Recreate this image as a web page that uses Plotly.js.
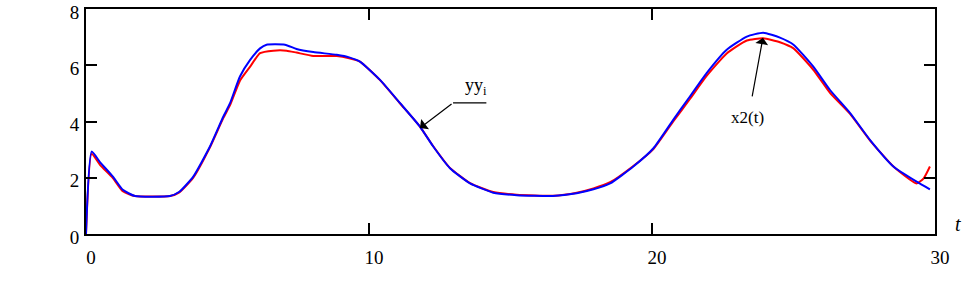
<!DOCTYPE html>
<html>
<head>
<meta charset="utf-8">
<script src="https://cdn.plot.ly/plotly-3.0.1.min.js"></script>
<style>html,body{margin:0;padding:0;background:#fff;}#chart{width:963px;height:286px;}</style>
</head>
<body>
<div id="chart"></div>
<script>
// time samples and values
const tBlue = [0, 0.2, 0.5, 0.95, 1.3, 1.73, 2.97, 3.3, 3.79, 4.38, 4.85, 5.09, 5.44, 5.8, 6.15, 6.38, 7.03, 7.44, 8.03, 8.86, 9.3, 9.68, 10.39, 11.1, 11.8, 12.27, 12.86, 13.57, 14.39, 15.22, 16.5, 17.34, 17.93, 18.52, 19.34, 20.05, 20.75, 21.34, 21.93, 22.64, 23.35, 23.93, 24.52, 25.0, 25.7, 26.29, 27.0, 27.7, 28.53, 29.35, 29.82];
const blueVals = [0, 2.93, 2.55, 2.04, 1.57, 1.35, 1.35, 1.5, 2.04, 3.11, 4.17, 4.65, 5.6, 6.19, 6.6, 6.73, 6.73, 6.58, 6.47, 6.37, 6.28, 6.13, 5.48, 4.65, 3.82, 3.11, 2.34, 1.8, 1.47, 1.38, 1.35, 1.45, 1.59, 1.8, 2.4, 3.05, 4.06, 4.89, 5.72, 6.55, 7.02, 7.16, 6.98, 6.73, 5.95, 5.12, 4.3, 3.35, 2.4, 1.86, 1.59];
const tRed = [0, 0.2, 0.5, 0.95, 1.3, 1.73, 2.97, 3.3, 3.79, 4.38, 4.85, 5.09, 5.44, 5.8, 6.15, 6.62, 7.09, 7.44, 8.03, 8.86, 9.3, 9.68, 10.39, 11.1, 11.8, 12.27, 12.86, 13.57, 14.39, 15.22, 16.5, 17.34, 17.93, 18.52, 19.34, 20.05, 20.75, 21.34, 21.93, 22.64, 23.35, 23.93, 24.52, 25.0, 25.7, 26.29, 27.0, 27.7, 28.53, 29.35, 29.6, 29.82];
const redVals = [0, 2.85, 2.45, 1.99, 1.52, 1.35, 1.35, 1.48, 2.0, 3.08, 4.12, 4.58, 5.45, 5.95, 6.43, 6.52, 6.52, 6.45, 6.33, 6.33, 6.25, 6.13, 5.47, 4.64, 3.82, 3.12, 2.35, 1.81, 1.49, 1.4, 1.36, 1.47, 1.62, 1.84, 2.42, 3.02, 4.0, 4.8, 5.62, 6.42, 6.88, 6.96, 6.82, 6.6, 5.84, 5.02, 4.27, 3.33, 2.4, 1.8, 1.98, 2.4];
const xTicks = [0, 10, 20, 30];
const yTicks = [0, 2, 4, 6, 8];

const serif = '"Liberation Serif", "DejaVu Serif", "Times New Roman", Times, serif';

const traces = [
  {x: tRed, y: redVals, type: 'scatter', mode: 'lines', line: {color: '#ff0000', width: 2, shape: 'spline', smoothing: 0.5}, hoverinfo: 'skip'},
  {x: tBlue, y: blueVals, type: 'scatter', mode: 'lines', line: {color: '#0000ff', width: 2, shape: 'spline', smoothing: 0.5}, hoverinfo: 'skip'}
];

const axisCommon = {
  showline: true, linecolor: '#000', linewidth: 2, mirror: 'ticks',
  ticks: 'inside', ticklen: 11, tickwidth: 2, tickcolor: '#000',
  showgrid: false, zeroline: false, fixedrange: true,
  ticklabeloverflow: 'allow',
  tickfont: {family: serif, size: 19, color: '#000'}
};

const layout = {
  width: 963, height: 286,
  margin: {l: 86, r: 28, t: 9, b: 52},
  paper_bgcolor: '#fff', plot_bgcolor: '#fff',
  showlegend: false,
  font: {family: serif},
  xaxis: Object.assign({}, axisCommon, {range: [0, 30], tickvals: xTicks, ticktext: xTicks.map(String), ticklabelshift: 5, ticklabelstandoff: 5}),
  yaxis: Object.assign({}, axisCommon, {range: [0, 8], tickvals: yTicks, ticktext: yTicks.map(String), ticklabelstandoff: 1, ticklabelshift: 3}),
  annotations: [
    // yy_i label and leader
    {x: 13.78, y: 5.23, xref: 'x', yref: 'y', text: 'yy<sub>i</sub>', showarrow: false,
     font: {family: serif, size: 18, color: '#000'}},
    {x: 12.97, y: 4.66, ax: 14.2, ay: 4.66, xref: 'x', yref: 'y', axref: 'x', ayref: 'y',
     text: '', showarrow: true, arrowhead: 0, arrowwidth: 1.2, arrowcolor: '#000'},
    {x: 11.8, y: 3.77, ax: 12.97, ay: 4.66, xref: 'x', yref: 'y', axref: 'x', ayref: 'y',
     text: '', showarrow: true, arrowhead: 1, arrowsize: 1.8, arrowwidth: 1.2, arrowcolor: '#000'},
    // x2(t) label and arrow
    {x: 23.39, y: 4.16, xref: 'x', yref: 'y', text: 'x2(t)', showarrow: false,
     font: {family: serif, size: 17, color: '#000'}},
    {x: 23.92, y: 6.98, ax: 23.53, ay: 4.84, xref: 'x', yref: 'y', axref: 'x', ayref: 'y',
     text: '', showarrow: true, arrowhead: 1, arrowsize: 1.8, arrowwidth: 1.2, arrowcolor: '#000'},
    // axis name t
    {x: 1, y: 0, xref: 'paper', yref: 'paper', text: '<i>t</i>', showarrow: false,
     xanchor: 'left', yanchor: 'middle', xshift: 18, yshift: 10,
     font: {family: serif, size: 20, color: '#000'}}
  ]
};

Plotly.newPlot('chart', traces, layout, {staticPlot: true, displayModeBar: false});
</script>
</body>
</html>
